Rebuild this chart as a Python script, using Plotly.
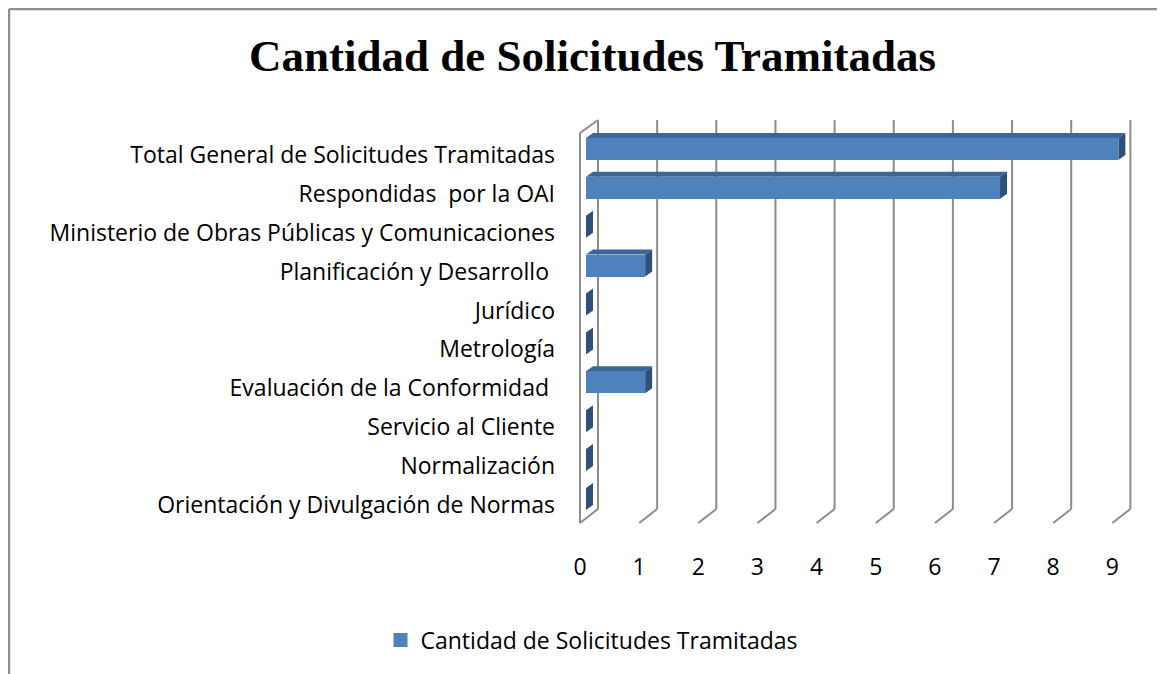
import plotly.graph_objects as go

# ---------------- data ----------------
categories = [
    "Total General de Solicitudes Tramitadas",
    "Respondidas\u00a0 por la OAI",
    "Ministerio de Obras Públicas y Comunicaciones",
    "Planificación y Desarrollo\u00a0",
    "Jurídico",
    "Metrología",
    "Evaluación de la Conformidad\u00a0",
    "Servicio al Cliente",
    "Normalización",
    "Orientación y Divulgación de Normas",
]
values = [9, 7, 0, 1, 0, 0, 1, 0, 0, 0]
x_ticks = [0, 1, 2, 3, 4, 5, 6, 7, 8, 9]
series_name = "Cantidad de Solicitudes Tramitadas"
title_text = "Cantidad de Solicitudes Tramitadas"

# ---------------- geometry (reference pixels -> axis units) ----------------
OFF = 8                    # page body margin
RW, RH = 1165, 674         # reference canvas
W, H = RW - OFF, RH - OFF  # figure size
PL, PR, PT, PB = 560, 1165, 100, 551   # plot area in reference pixels
PX_X = 59.15          # px per value unit
PX_Y = 38.9           # px per category
X0_PX = 580           # pixel of value 0 on front floor edge
Y0_PX = 505           # pixel of bottom category on front

def kx(px):
    return (px - X0_PX) / PX_X

def ky(py):
    return (Y0_PX - py) / PX_Y

x_range = [kx(PL), kx(PR)]
y_range = [ky(PB), ky(PT)]

back_dx = 18 / PX_X
floor_front = ky(523)
floor_back = ky(509)
top_back = ky(120)
top_front = ky(133)

bar_fx = 6 / PX_X
bar_fy = 6 / PX_Y
bar_h = 22 / PX_Y
d_x = 7 / PX_X
d_y = 5 / PX_Y

n = len(categories)
ypos = [n - 1 - i for i in range(n)]  # top category highest

FRONT = "#4F81BD"
TOP = "#3D6597"
SIDE = "#2F5079"
GRID = "#8C8C8C"

fig = go.Figure()

shapes = []
for t in x_ticks:
    xb = t + back_dx
    shapes.append(dict(type="line", xref="x", yref="y", x0=xb, x1=xb, y0=floor_back, y1=top_back,
                       line=dict(color=GRID, width=2), layer="below"))
    shapes.append(dict(type="line", xref="x", yref="y", x0=xb, x1=t, y0=floor_back, y1=floor_front,
                       line=dict(color=GRID, width=2), layer="below"))
shapes.append(dict(type="line", xref="x", yref="y", x0=x_ticks[0], x1=x_ticks[0], y0=floor_front, y1=top_front,
                   line=dict(color=GRID, width=2), layer="below"))
shapes.append(dict(type="line", xref="x", yref="y", x0=x_ticks[0], x1=x_ticks[0] + back_dx, y0=top_front, y1=top_back,
                   line=dict(color=GRID, width=2), layer="below"))

def paper_x(px):
    return (px - PL) / (PR - PL)

def paper_y(py):
    return (PB - py) / (PB - PT)

FRAME = "#8E8E8E"
shapes.append(dict(type="line", xref="paper", yref="paper",
                   x0=paper_x(9), x1=paper_x(RW + 20), y0=paper_y(9), y1=paper_y(9),
                   line=dict(color=FRAME, width=2.5), layer="above"))
shapes.append(dict(type="line", xref="paper", yref="paper",
                   x0=paper_x(9), x1=paper_x(9), y0=paper_y(9), y1=paper_y(RH + 20),
                   line=dict(color=FRAME, width=2.5), layer="above"))

# front faces
fig.add_trace(go.Bar(
    y=[p + bar_fy for p in ypos], x=values, base=bar_fx, orientation="h",
    width=bar_h, marker=dict(color=FRONT, line=dict(width=0)),
    name=series_name, showlegend=False, hoverinfo="skip",
))

# top faces & side faces
tx, ty, sx, sy = [], [], [], []
for p, v in zip(ypos, values):
    yb = p + bar_fy - bar_h / 2
    yt = p + bar_fy + bar_h / 2
    xl = bar_fx
    xr = bar_fx + v
    if v > 0:
        tx += [xl, xr, xr + d_x, xl + d_x, xl, None]
        ty += [yt, yt, yt + d_y, yt + d_y, yt, None]
    sx += [xr, xr + d_x, xr + d_x, xr, xr, None]
    sy += [yb, yb + d_y, yt + d_y, yt, yb, None]

fig.add_trace(go.Scatter(x=tx, y=ty, mode="lines", fill="toself", fillcolor=TOP,
                         line=dict(width=0, color=TOP), showlegend=False, hoverinfo="skip"))
fig.add_trace(go.Scatter(x=sx, y=sy, mode="lines", fill="toself", fillcolor=SIDE,
                         line=dict(width=0, color=SIDE), showlegend=False, hoverinfo="skip"))

# legend entry (square swatch)
fig.add_trace(go.Scatter(x=[None], y=[None], mode="markers",
                         marker=dict(symbol="square", size=14, color=FRONT),
                         name=series_name, showlegend=True, hoverinfo="skip"))

LABEL_FONT = dict(family="Open Sans, Lato, sans-serif", size=23, color="#000000")

fig.update_layout(
    width=W, height=H,
    margin=dict(l=PL - OFF, r=0, t=PT - OFF, b=RH - PB),
    paper_bgcolor="white", plot_bgcolor="white",
    shapes=shapes,
    title=dict(text=title_text, xref="container", yref="container",
               x=(592.5 - OFF) / W, y=1 - (55 - OFF) / H, xanchor="center", yanchor="middle",
               font=dict(family="Liberation Serif, serif", size=45, color="#000000", weight="bold")),
    xaxis=dict(range=x_range, tickmode="array", tickvals=x_ticks, ticktext=[str(t) for t in x_ticks],
               showgrid=False, zeroline=False, showline=False, ticks="",
               tickfont=LABEL_FONT, fixedrange=True),
    yaxis=dict(range=y_range, tickmode="array", tickvals=ypos, ticktext=categories,
               showgrid=False, zeroline=False, showline=False, ticks="",
               tickfont=LABEL_FONT, fixedrange=True, ticklabelstandoff=4),
    legend=dict(orientation="h", xref="container", yref="container",
                x=(592 - OFF) / W, y=1 - (640 - OFF) / H, xanchor="center", yanchor="middle",
                font=dict(family="Open Sans, Lato, sans-serif", size=23, color="#000000")),
    showlegend=True,
    bargap=0,
)

fig.write_html("out.html")
